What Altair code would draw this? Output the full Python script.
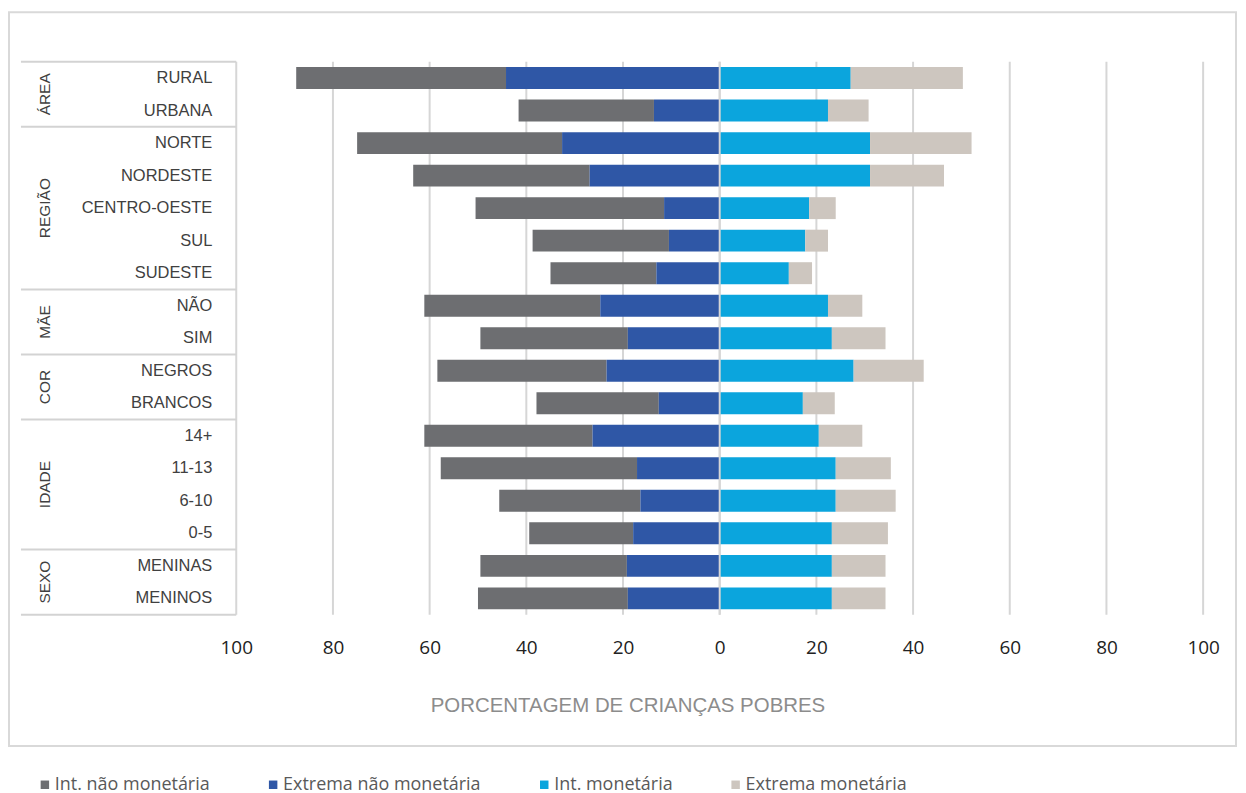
import altair as alt
import pandas as pd

# ---------------- data ----------------
categories = ["RURAL", "URBANA", "NORTE", "NORDESTE", "CENTRO-OESTE", "SUL", "SUDESTE",
              "NÃO", "SIM", "NEGROS", "BRANCOS", "14+", "11-13", "6-10", "0-5",
              "MENINAS", "MENINOS"]
groups = (["ÁREA"] * 2 + ["REGIÃO"] * 5 + ["MÃE"] * 2 + ["COR"] * 2 +
          ["IDADE"] * 4 + ["SEXO"] * 2)

int_nao = [43.4, 28.0, 42.4, 36.5, 39.0, 28.2, 21.9, 36.4, 30.5, 35.0, 25.3,
           34.8, 40.6, 29.2, 21.5, 30.3, 31.0]
extrema_nao = [44.2, 13.6, 32.6, 26.9, 11.5, 10.5, 13.1, 24.7, 19.0, 23.4, 12.6,
               26.3, 17.1, 16.4, 17.9, 19.2, 19.0]
int_mon = [27.1, 22.4, 31.1, 31.1, 18.5, 17.7, 14.3, 22.4, 23.2, 27.7, 17.2,
           20.5, 24.0, 24.0, 23.2, 23.2, 23.2]
extrema_mon = [23.2, 8.4, 21.0, 15.3, 5.5, 4.7, 4.8, 7.1, 11.1, 14.5, 6.6,
               9.0, 11.4, 12.4, 11.6, 11.1, 11.1]

series = ["Int. não monetária", "Extrema não monetária", "Int. monetária", "Extrema monetária"]
colors = ["#6d6e71", "#2f57a6", "#0ba5dd", "#cdc6bf"]
tick_values = [-100, -80, -60, -40, -20, 0, 20, 40, 60, 80, 100]
axis_title = "PORCENTAGEM DE CRIANÇAS POBRES"

# ---------------- tables built from the lists ----------------
rows = []
for i, cat in enumerate(categories):
    en, inn, im, em = extrema_nao[i], int_nao[i], int_mon[i], extrema_mon[i]
    rows.append(dict(cat=cat, row=i, serie=series[0], start=-(en + inn), end=-en))
    rows.append(dict(cat=cat, row=i, serie=series[1], start=-en, end=0))
    rows.append(dict(cat=cat, row=i, serie=series[2], start=0, end=im))
    rows.append(dict(cat=cat, row=i, serie=series[3], start=im, end=im + em))
bars_df = pd.DataFrame(rows)

labels_df = pd.DataFrame({"cat": categories, "row": list(range(len(categories)))})

group_rows = []
for i, g in enumerate(groups):
    if not group_rows or group_rows[-1]["group"] != g:
        group_rows.append(dict(group=g, first=i, last=i))
    else:
        group_rows[-1]["last"] = i
groups_df = pd.DataFrame(group_rows)
groups_df["mid"] = (groups_df["first"] + groups_df["last"]) / 2
bounds_df = pd.DataFrame({"b": list(groups_df["first"] - 0.5) + [len(categories) - 0.5]})

grid_df = pd.DataFrame({"v": tick_values})
zero_df = pd.DataFrame({"v": [0]})

# ---------------- scales / axes ----------------
xscale = alt.Scale(domain=[-147.01, 106.80], nice=False, zero=False, padding=0)
yscale = alt.Scale(domain=[-2.023, 20.536], reverse=True, nice=False, zero=False, padding=0)

x_axis = alt.Axis(values=tick_values, labelExpr="abs(datum.value)", title=axis_title,
                  grid=False, domain=False, ticks=False, offset=-107.7,
                  labelPadding=0, labelBaseline="top", labelFont="Open Sans",
                  labelFontSize=19, labelColor="#222222",
                  titleFont="Liberation Sans", titleFontSize=20.5, titleFontWeight="normal",
                  titleColor="#8c8c8c", titleX=620.5, titleY=73.7,
                  titleBaseline="alphabetic", titleAlign="center")

top = -0.5
bottom = len(categories) - 0.5

grid = alt.Chart(grid_df).mark_rule(color="#d6d6d6", strokeWidth=2).encode(
    x=alt.X("v:Q", scale=xscale, axis=x_axis),
    y=alt.datum(top, scale=yscale, axis=None),
    y2=alt.datum(bottom),
)

bars = alt.Chart(bars_df).mark_bar(orient="horizontal", size=22).encode(
    x=alt.X("start:Q", scale=xscale, axis=x_axis),
    x2="end:Q",
    y=alt.Y("row:Q", scale=yscale, axis=None),
    color=alt.Color("serie:N", scale=alt.Scale(domain=series, range=colors),
                    legend=alt.Legend(title=None, orient="none", legendX=27, legendY=766,
                                      direction="horizontal", columns=4,
                                      symbolType="square", symbolSize=72,
                                      symbolStrokeWidth=0, labelFont="Open Sans",
                                      labelFontSize=18, labelColor="#595959",
                                      labelOffset=1, columnPadding=54, labelLimit=400)),
)

zero = alt.Chart(zero_df).mark_rule(color="#d6d6d6", strokeWidth=2).encode(
    x=alt.X("v:Q", scale=xscale, axis=x_axis),
    y=alt.datum(top, scale=yscale, axis=None),
    y2=alt.datum(bottom),
)

bounds = alt.Chart(bounds_df).mark_rule(color="#d3d3d3", strokeWidth=2).encode(
    x=alt.value(12), x2=alt.value(228),
    y=alt.Y("b:Q", scale=yscale, axis=None),
)

cat_text = alt.Chart(labels_df).mark_text(
    align="right", baseline="middle", font="Liberation Sans", fontSize=16.5, color="#404040"
).encode(
    x=alt.value(204),
    y=alt.Y("row:Q", scale=yscale, axis=None),
    text="cat:N",
)

group_text = alt.Chart(groups_df).mark_text(
    angle=270, align="center", baseline="middle", font="Liberation Sans",
    fontSize=15.5, color="#404040"
).encode(
    x=alt.value(36),
    y=alt.Y("mid:Q", scale=yscale, axis=None),
    text="group:N",
)

chart = alt.layer(grid, bars, zero, bounds, cat_text, group_text).properties(
    width=1231, height=736,
    autosize=alt.AutoSizeParams(type="none"),
    padding={"left": 1, "top": 3, "right": 2, "bottom": 49},
).configure_view(stroke="#d9d9d9", strokeWidth=2)

chart.save("out.html", embed_options={"renderer": "svg", "actions": False})
